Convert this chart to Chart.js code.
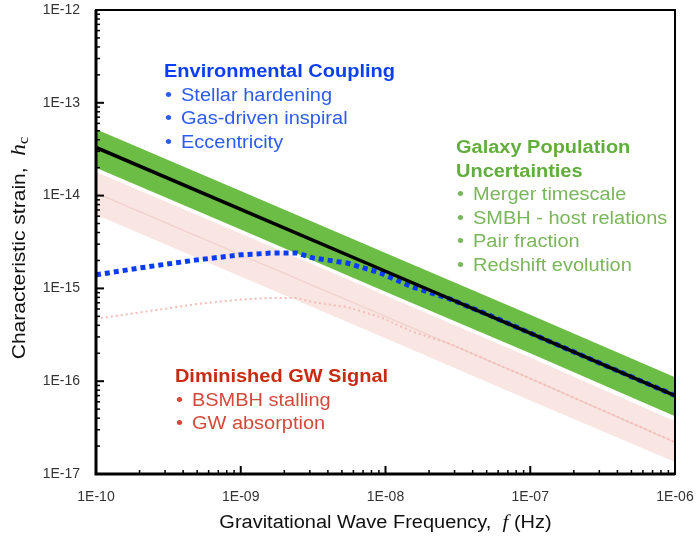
<!DOCTYPE html>
<html>
<head>
<meta charset="utf-8">
<script src="https://cdn.jsdelivr.net/npm/chart.js@4.4.1/dist/chart.umd.min.js"></script>
<style>
  html, body { margin: 0; padding: 0; background: #fff; }
  #wrap { width: 696px; height: 537px; }
</style>
</head>
<body>
<div id="wrap"><canvas id="chart"></canvas></div>
<script>
// axis ticks (decades)
const xTicks = [1e-10, 1e-9, 1e-8, 1e-7, 1e-6];
const yTicks = [1e-17, 1e-16, 1e-15, 1e-14, 1e-13, 1e-12];

// straight power-law curves, read at each decade
const bandFreq = [1e-10, 1e-9, 1e-8, 1e-7, 1e-6];
const blackLine = [3.3e-14, 7.1e-15, 1.53e-15, 3.3e-16, 7.0e-17];
const greenTop = [5.2e-14, 1.12e-14, 2.4e-15, 5.2e-16, 1.1e-16];
const greenBottom = [2.0e-14, 4.3e-15, 9.2e-16, 2.0e-16, 4.2e-17];
const pinkTop = [1.8e-14, 3.9e-15, 8.4e-16, 1.8e-16, 3.7e-17];
const pinkBottom = [6.2e-15, 1.34e-15, 2.9e-16, 6.2e-17, 1.35e-17];
const pinkCenter = [1.07e-14, 2.3e-15, 5.0e-16, 1.07e-16, 2.2e-17];

// environmental turnover curves
const envFreq = [1e-10, 2e-10, 5e-10, 1e-9, 1.6e-9, 2.45e-9, 3.15e-9, 5.4e-9, 9.2e-9, 1.55e-8, 2.66e-8, 5e-8, 1e-7, 1e-6];
const blueDotted = [1.4e-15, 1.66e-15, 2.03e-15, 2.3e-15, 2.4e-15, 2.4e-15, 2.13e-15, 1.88e-15, 1.47e-15, 1.03e-15, 7.9e-16, 5.3e-16, 3.3e-16, 7.0e-17];
const pinkDotted = [4.7e-16, 5.5e-16, 6.8e-16, 7.6e-16, 7.9e-16, 7.9e-16, 7.1e-16, 6.3e-16, 4.9e-16, 3.4e-16, 2.6e-16, 1.7e-16, 1.07e-16, 2.2e-17];

// annotations
const envTitle = 'Environmental Coupling';
const envItems = ['Stellar hardening', 'Gas-driven inspiral', 'Eccentricity'];
const galaxyTitle = ['Galaxy Population', 'Uncertainties'];
const galaxyItems = ['Merger timescale', 'SMBH - host relations', 'Pair fraction', 'Redshift evolution'];
const signalTitle = 'Diminished GW Signal';
const signalItems = ['BSMBH stalling', 'GW absorption'];

const pts = (xs, ys) => xs.map((x, i) => ({ x: x, y: ys[i] }));

const FONT = '"Liberation Sans", Helvetica, Arial, sans-serif';
const SERIF = '"Liberation Serif", "DejaVu Serif", serif';
const SX = 1.11;

function drawText(ctx, str, x, y, font, color, sx) {
    ctx.save();
    ctx.translate(x, y);
    ctx.scale(sx, 1);
    ctx.font = font;
    ctx.fillStyle = color;
    ctx.textBaseline = 'middle';
    ctx.textAlign = 'left';
    ctx.fillText(str, 0, 0);
    const w = ctx.measureText(str).width * sx;
    ctx.restore();
    return w;
}

function drawBlock(ctx, x, y, titles, items, cTitle, cItem) {
    const lh = 23.6;
    let yy = y;
    titles.forEach(t => {
        drawText(ctx, t, x, yy, 'bold 18px ' + FONT, cTitle, SX);
        yy += lh;
    });
    items.forEach(t => {
        drawText(ctx, '\u2022', x + 1, yy, '18px ' + FONT, cItem, SX);
        drawText(ctx, t, x + 17, yy, '18px ' + FONT, cItem, SX);
        yy += lh;
    });
}

const frameAndText = {
    id: 'frameAndText',
    afterDraw(chart) {
        const { ctx, chartArea: a, scales: { x, y } } = chart;
        ctx.save();
        ctx.strokeStyle = '#000';
        ctx.lineCap = 'butt';

        // minor ticks
        ctx.lineWidth = 1.5;
        for (let i = 0; i < xTicks.length - 1; i++) {
            for (let k = 2; k < 10; k++) {
                const px = x.getPixelForValue(xTicks[i] * k);
                ctx.beginPath(); ctx.moveTo(px, a.bottom); ctx.lineTo(px, a.bottom - 4); ctx.stroke();
            }
        }
        for (let i = 0; i < yTicks.length - 1; i++) {
            for (let k = 2; k < 10; k++) {
                const py = y.getPixelForValue(yTicks[i] * k);
                ctx.beginPath(); ctx.moveTo(a.left, py); ctx.lineTo(a.left + 4, py); ctx.stroke();
            }
        }
        // major ticks
        ctx.lineWidth = 2;
        xTicks.forEach(v => {
            const px = x.getPixelForValue(v);
            ctx.beginPath(); ctx.moveTo(px, a.bottom); ctx.lineTo(px, a.bottom - 8); ctx.stroke();
        });
        yTicks.forEach(v => {
            const py = y.getPixelForValue(v);
            ctx.beginPath(); ctx.moveTo(a.left, py); ctx.lineTo(a.left + 8, py); ctx.stroke();
        });

        // frame
        ctx.lineWidth = 2;
        ctx.strokeRect(a.left, a.top, a.right - a.left, a.bottom - a.top);
        ctx.lineWidth = 3;
        ctx.beginPath();
        ctx.moveTo(a.left, a.top); ctx.lineTo(a.left, a.bottom); ctx.lineTo(a.right, a.bottom);
        ctx.stroke();

        // annotations anchored in data space
        drawBlock(ctx, x.getPixelForValue(2.95e-10), y.getPixelForValue(2.15e-13),
            [envTitle], envItems, '#0b3ef5', '#2d5cf2');
        drawBlock(ctx, x.getPixelForValue(3.07e-8), y.getPixelForValue(3.26e-14),
            galaxyTitle, galaxyItems, '#63ad3d', '#7ab65b');
        drawBlock(ctx, x.getPixelForValue(3.51e-10), y.getPixelForValue(1.11e-16),
            [signalTitle], signalItems, '#c92b12', '#d34a3b');

        // x axis title
        const cx = (a.left + a.right) / 2;
        const ty = 523;
        ctx.font = '18px ' + FONT;
        const p1 = 'Gravitational Wave Frequency,  ';
        const p3 = ' (Hz)';
        const w1 = ctx.measureText(p1).width * SX;
        ctx.font = 'italic 19px ' + SERIF;
        const w2 = ctx.measureText('f').width * SX;
        ctx.font = '18px ' + FONT;
        const w3 = ctx.measureText(p3).width * SX;
        const sx0 = cx - (w1 + w2 + w3) / 2;
        drawText(ctx, p1, sx0, ty, '18px ' + FONT, '#111', SX);
        drawText(ctx, 'f', sx0 + w1, ty, 'italic 19px ' + SERIF, '#111', SX);
        drawText(ctx, p3, sx0 + w1 + w2, ty, '18px ' + FONT, '#111', SX);

        // y axis title (rotated)
        const SY = 1.17;
        ctx.save();
        ctx.translate(20, 248);
        ctx.rotate(-Math.PI / 2);
        ctx.font = '18px ' + FONT;
        const q1 = 'Characteristic strain,  ';
        const v1 = ctx.measureText(q1).width * SY;
        ctx.font = 'italic 20px ' + SERIF;
        const v2 = ctx.measureText('h').width * SY;
        ctx.font = '14px ' + SERIF;
        const v3 = ctx.measureText('c').width * SY;
        const s0 = -(v1 + v2 + v3) / 2;
        drawText(ctx, q1, s0, 0, '18px ' + FONT, '#111', SY);
        drawText(ctx, 'h', s0 + v1, 0, 'italic 20px ' + SERIF, '#111', SY);
        drawText(ctx, 'c', s0 + v1 + v2, 4, '14px ' + SERIF, '#111', SY);
        ctx.restore();

        ctx.restore();
    }
};

const expLabel = v => {
    const e = Math.round(Math.log10(v));
    return '1E' + (e < 0 ? '-' : '+') + String(Math.abs(e)).padStart(2, '0');
};

new Chart(document.getElementById('chart'), {
    type: 'line',
    data: {
        datasets: [
            { label: 'Expected', data: pts(bandFreq, blackLine), borderColor: '#000', borderWidth: 3.5, order: 0 },
            { label: 'Environment', data: pts(envFreq, blueDotted), borderColor: '#0a3cf5', borderWidth: 5, borderDash: [5, 4], order: 1 },
            { label: 'Green top', data: pts(bandFreq, greenTop), borderWidth: 0, borderColor: 'rgba(0,0,0,0)', backgroundColor: '#6cbd45', fill: 3, order: 2 },
            { label: 'Green bottom', data: pts(bandFreq, greenBottom), borderWidth: 0, borderColor: 'rgba(0,0,0,0)', order: 3 },
            { label: 'Diminished environment', data: pts(envFreq, pinkDotted), borderColor: '#f2bcb7', borderWidth: 2, borderDash: [2, 3], order: 4 },
            { label: 'Diminished', data: pts(bandFreq, pinkCenter), borderColor: '#f1d2cc', borderWidth: 1.5, order: 5 },
            { label: 'Pink top', data: pts(bandFreq, pinkTop), borderWidth: 0, borderColor: 'rgba(0,0,0,0)', backgroundColor: '#f9e6e3', fill: 7, order: 6 },
            { label: 'Pink bottom', data: pts(bandFreq, pinkBottom), borderWidth: 0, borderColor: 'rgba(0,0,0,0)', order: 7 }
        ]
    },
    options: {
        responsive: true,
        maintainAspectRatio: false,
        animation: false,
        events: [],
        layout: { padding: { top: 10, right: 21, left: 0, bottom: 0 } },
        elements: { point: { radius: 0 }, line: { tension: 0 } },
        plugins: { legend: { display: false }, tooltip: { enabled: false } },
        scales: {
            x: {
                type: 'logarithmic',
                min: 1e-10,
                max: 1e-6,
                grid: { display: false, drawTicks: false },
                border: { display: false },
                afterBuildTicks: s => { s.ticks = xTicks.map(v => ({ value: v })); },
                afterFit: s => { s.height = 63; s.paddingLeft = 0; s.paddingRight = 0; },
                ticks: {
                    autoSkip: false, maxRotation: 0, padding: 15,
                    color: '#333', font: { family: FONT, size: 14 },
                    callback: v => expLabel(v)
                }
            },
            y: {
                type: 'logarithmic',
                min: 1e-17,
                max: 1e-12,
                grid: { display: false, drawTicks: false },
                border: { display: false },
                afterBuildTicks: s => { s.ticks = yTicks.map(v => ({ value: v })); },
                afterFit: s => { s.width = 96; s.paddingTop = 0; s.paddingBottom = 0; },
                ticks: {
                    autoSkip: false, padding: 16,
                    color: '#333', font: { family: FONT, size: 14 },
                    callback: v => expLabel(v)
                }
            }
        }
    },
    plugins: [frameAndText]
});
</script>
</body>
</html>
